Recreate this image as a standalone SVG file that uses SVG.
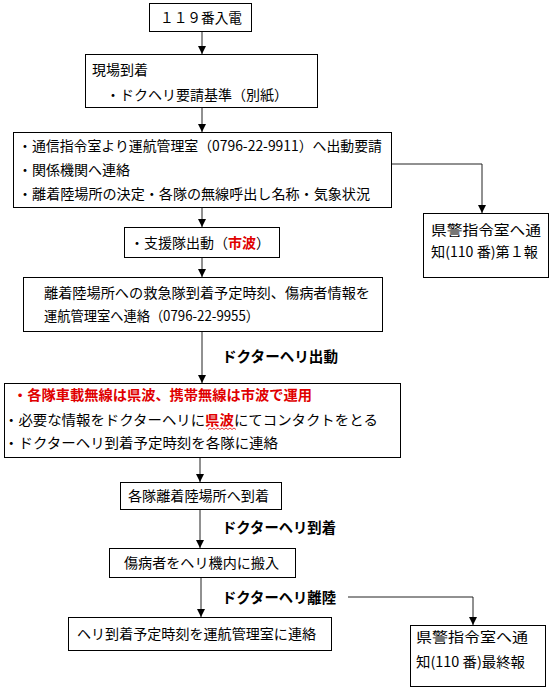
<svg xmlns="http://www.w3.org/2000/svg" width="552" height="690" viewBox="0 0 552 690">
<defs>
<style>
.box{fill:#fff;stroke:#000;stroke-width:1}
.t{font-family:"MS Gothic","Noto Sans CJK JP","Liberation Sans",sans-serif;font-size:14px;fill:#000}
.b{font-weight:bold}
.r{fill:#e00000;font-weight:bold}
.lab{font-family:"Noto Sans CJK JP","Liberation Sans",sans-serif;font-size:14.5px;font-weight:bold;fill:#000}
.ln{fill:none;stroke:#222;stroke-width:1}
</style>
<marker id="ah" viewBox="0 0 10 10" refX="10" refY="5" markerWidth="8" markerHeight="8" markerUnits="userSpaceOnUse" orient="auto">
<path d="M0,0 L10,5 L0,10 z" fill="#000"/>
</marker>
</defs>
<rect width="552" height="690" fill="#fff"/>

<g id="connectors">
<line class="ln" x1="202" y1="31" x2="202" y2="54" marker-end="url(#ah)"/>
<line class="ln" x1="202" y1="107" x2="202" y2="132" marker-end="url(#ah)"/>
<line class="ln" x1="202" y1="207" x2="202" y2="227" marker-end="url(#ah)"/>
<line class="ln" x1="202" y1="257" x2="202" y2="277" marker-end="url(#ah)"/>
<line class="ln" x1="202" y1="331" x2="202" y2="383" marker-end="url(#ah)"/>
<line class="ln" x1="200" y1="457" x2="200" y2="482" marker-end="url(#ah)"/>
<line class="ln" x1="200" y1="509" x2="200" y2="548" marker-end="url(#ah)"/>
<line class="ln" x1="201" y1="577" x2="201" y2="617" marker-end="url(#ah)"/>
<polyline class="ln" points="391,164 482,164 482,213" marker-end="url(#ah)"/>
<polyline class="ln" points="348,597 473,597 473,625" marker-end="url(#ah)"/>
<text class="lab" x="222" y="362" textLength="116" lengthAdjust="spacingAndGlyphs">ドクターヘリ出動</text>
<text class="lab" x="222" y="533" textLength="114" lengthAdjust="spacingAndGlyphs">ドクターヘリ到着</text>
<text class="lab" x="222" y="603" textLength="114" lengthAdjust="spacingAndGlyphs">ドクターヘリ離陸</text>
</g>

<g id="n1">
<rect class="box" x="149.5" y="3.5" width="102" height="28"/>
<text class="t" x="160" y="23" textLength="82" lengthAdjust="spacingAndGlyphs">１１９番入電</text>
</g>

<g id="n2">
<rect class="box" x="85.5" y="54.5" width="232" height="53"/>
<text class="t" x="92" y="75">現場到着</text>
<text class="t" x="106" y="100" textLength="182" lengthAdjust="spacingAndGlyphs">・ドクヘリ要請基準（別紙）</text>
</g>

<g id="n3">
<rect class="box" x="13.5" y="132.5" width="378" height="75"/>
<text class="t" x="18" y="151" textLength="364" lengthAdjust="spacingAndGlyphs">・通信指令室より運航管理室（0796-22-9911）へ出動要請</text>
<text class="t" x="18" y="175" textLength="112" lengthAdjust="spacingAndGlyphs">・関係機関へ連絡</text>
<text class="t" x="18" y="199" textLength="352" lengthAdjust="spacingAndGlyphs">・離着陸場所の決定・各隊の無線呼出し名称・気象状況</text>
</g>

<g id="n4">
<rect class="box" x="423.5" y="213.5" width="125" height="64"/>
<text class="t" x="431" y="235" textLength="110" lengthAdjust="spacingAndGlyphs">県警指令室へ通</text>
<text class="t" x="431" y="257" textLength="107" lengthAdjust="spacingAndGlyphs">知(110 番)第１報</text>
</g>

<g id="n5">
<rect class="box" x="124.5" y="227.5" width="155" height="30"/>
<text class="t" x="130" y="248" textLength="140" lengthAdjust="spacingAndGlyphs">・支援隊出動（<tspan class="r">市波</tspan>）</text>
</g>

<g id="n6">
<rect class="box" x="23.5" y="277.5" width="359" height="54"/>
<text class="t" x="44" y="298" textLength="326" lengthAdjust="spacingAndGlyphs">離着陸場所への救急隊到着予定時刻、傷病者情報を</text>
<text class="t" x="44" y="321" textLength="215" lengthAdjust="spacingAndGlyphs">運航管理室へ連絡（0796-22-9955）</text>
</g>

<g id="n7">
<rect class="box" x="4.5" y="383.5" width="396" height="74"/>
<text class="t r" x="13" y="400" textLength="299" lengthAdjust="spacingAndGlyphs">・各隊車載無線は県波、携帯無線は市波で運用</text>
<text class="t" x="4" y="425" textLength="374" lengthAdjust="spacingAndGlyphs">・必要な情報をドクターヘリに<tspan class="r">県波</tspan>にてコンタクトをとる</text>
<path d="M208,429.5 l2,-1.5 l2,1.5 l2,-1.5 l2,1.5 l2,-1.5 l2,1.5 l2,-1.5 l2,1.5 l2,-1.5 l2,1.5 l2,-1.5 l2,1.5 l2,-1.5 l2,1.5" fill="none" stroke="#e00000" stroke-width="0.8"/>
<text class="t" x="4" y="448" textLength="274" lengthAdjust="spacingAndGlyphs">・ドクターヘリ到着予定時刻を各隊に連絡</text>
</g>

<g id="n8">
<rect class="box" x="120.5" y="482.5" width="161" height="27"/>
<text class="t" x="128" y="501" textLength="141" lengthAdjust="spacingAndGlyphs">各隊離着陸場所へ到着</text>
</g>

<g id="n9">
<rect class="box" x="109.5" y="548.5" width="186" height="29"/>
<text class="t" x="124" y="568" textLength="155" lengthAdjust="spacingAndGlyphs">傷病者をヘリ機内に搬入</text>
</g>

<g id="n10">
<rect class="box" x="68.5" y="617.5" width="263" height="33"/>
<text class="t" x="77" y="639" textLength="239" lengthAdjust="spacingAndGlyphs">ヘリ到着予定時刻を運航管理室に連絡</text>
</g>

<g id="n11">
<rect class="box" x="410.5" y="625.5" width="135" height="61"/>
<text class="t" x="416" y="642" textLength="112" lengthAdjust="spacingAndGlyphs">県警指令室へ通</text>
<text class="t" x="416" y="667" textLength="109" lengthAdjust="spacingAndGlyphs">知(110 番)最終報</text>
</g>
</svg>
